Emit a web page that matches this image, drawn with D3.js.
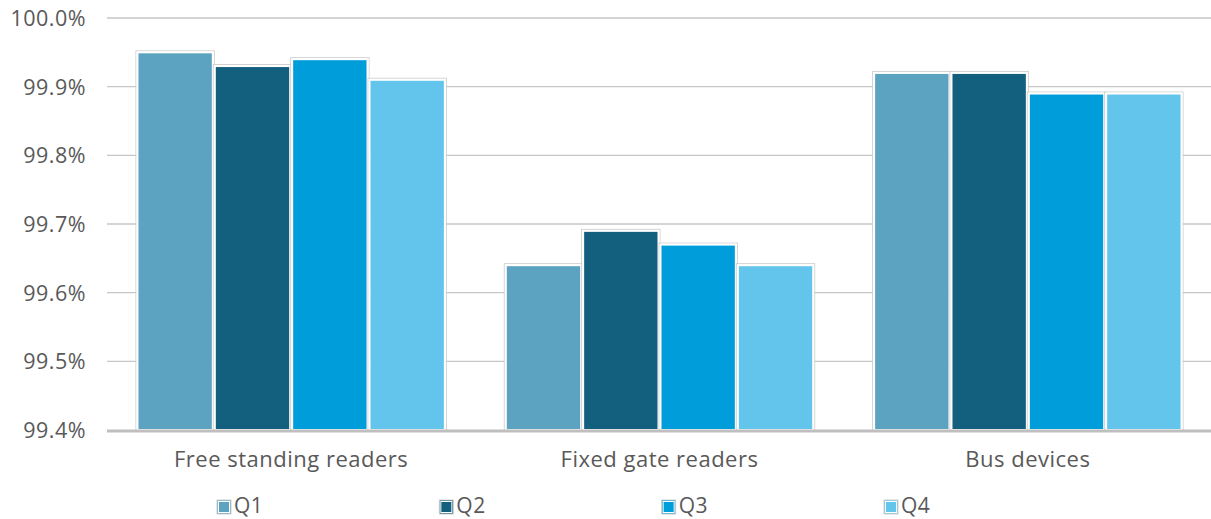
<!DOCTYPE html>
<html><head><meta charset="utf-8">
<script src="https://cdn.jsdelivr.net/npm/d3@7"></script>
<style>body{margin:0;background:#fff}svg text{font-family:"Open Sans",sans-serif;fill:#595959;letter-spacing:0.5px}</style>
</head><body><svg id="c" width="1211" height="519"></svg>
<script>
const categories = ["Free standing readers", "Fixed gate readers", "Bus devices"];
const seriesNames = ["Q1", "Q2", "Q3", "Q4"];
const q1 = [99.95, 99.64, 99.92];
const q2 = [99.93, 99.69, 99.92];
const q3 = [99.94, 99.67, 99.89];
const q4 = [99.91, 99.64, 99.89];
const yTicks = [99.4, 99.5, 99.6, 99.7, 99.8, 99.9, 100.0];
const colors = ["#5ba3c1", "#125f7e", "#009ddb", "#64c5ec"];
const series = [q1, q2, q3, q4];

(function(){
const svg = d3.select("#c");
const mLeft = 107, mRight = 1212, mTop = 18, mBottom = 430;
const y = d3.scaleLinear().domain([99.4, 100.0]).range([mBottom, mTop]);
const x0 = d3.scaleBand().domain(categories).range([mLeft, mRight]).paddingInner(0.16).paddingOuter(0.08);
const x1 = d3.scaleBand().domain(seriesNames).range([0, x0.bandwidth()]).padding(0);

// gridlines
svg.append("g").selectAll("line").data(yTicks.filter(t => t > 99.4)).join("line")
  .attr("x1", mLeft).attr("x2", mRight).attr("y1", d => y(d)).attr("y2", d => y(d))
  .attr("stroke", "#c6c6c6").attr("stroke-width", 1.3);

// y labels
const yAxis = d3.axisLeft(y).tickValues(yTicks).tickFormat(d => d3.format(".1f")(d) + "%").tickSize(0).tickPadding(0);
const ga = svg.append("g").attr("transform", `translate(86,0)`).call(yAxis);
ga.select(".domain").remove();
ga.selectAll("text").style("font-size", "21.5px").attr("fill", "#595959").attr("dy", "0.35em");

// bars
const groups = svg.append("g").selectAll("g").data(categories).join("g")
  .attr("transform", d => `translate(${x0(d)},0)`);
groups.each(function(cat, ci) {
  const g = d3.select(this);
  seriesNames.forEach((s, si) => {
    const v = series[si][ci];
    g.append("rect").attr("x", x1(s) - 0.5).attr("y", y(v) - 1.5).attr("width", x1.bandwidth() + 1).attr("height", mBottom - y(v) + 1.5)
      .attr("fill", "none").attr("stroke", "#cfcfcf").attr("stroke-width", 1);
    g.append("rect").attr("x", x1(s) + 1).attr("y", y(v)).attr("width", x1.bandwidth() - 2).attr("height", mBottom - y(v))
      .attr("fill", colors[si]).attr("stroke", "#fff").attr("stroke-width", 2);
  });
});

// baseline
svg.append("line").attr("x1", mLeft).attr("x2", mRight).attr("y1", mBottom + 1).attr("y2", mBottom + 1)
  .attr("stroke", "#bfbfbf").attr("stroke-width", 3);

// category labels
const xAxis = d3.axisBottom(x0).tickSize(0).tickPadding(0);
const gx = svg.append("g").attr("transform", `translate(0,${mBottom + 21})`).call(xAxis);
gx.select(".domain").remove();
gx.selectAll("text").style("font-size", "22px").attr("fill", "#595959").attr("dy", "0.71em");

// legend
const legendX = d3.scalePoint().domain(seriesNames).range([217, 884]);
const lg = svg.append("g").selectAll("g").data(seriesNames).join("g")
  .attr("transform", d => `translate(${legendX(d)},500)`);
lg.append("rect").attr("x", 0).attr("y", 0).attr("width", 14).attr("height", 14)
  .attr("fill", (d, i) => colors[i]).attr("stroke", "#d0d0d0").attr("stroke-width", 1);
lg.append("rect").attr("x", 1.5).attr("y", 1.5).attr("width", 11).attr("height", 11)
  .attr("fill", (d, i) => colors[i]).attr("stroke", "#fff").attr("stroke-width", 1);
lg.append("text").attr("x", 17).attr("y", 6).attr("dy", "0.35em").style("font-size", "21px").text(d => d);
})();
</script></body></html>
